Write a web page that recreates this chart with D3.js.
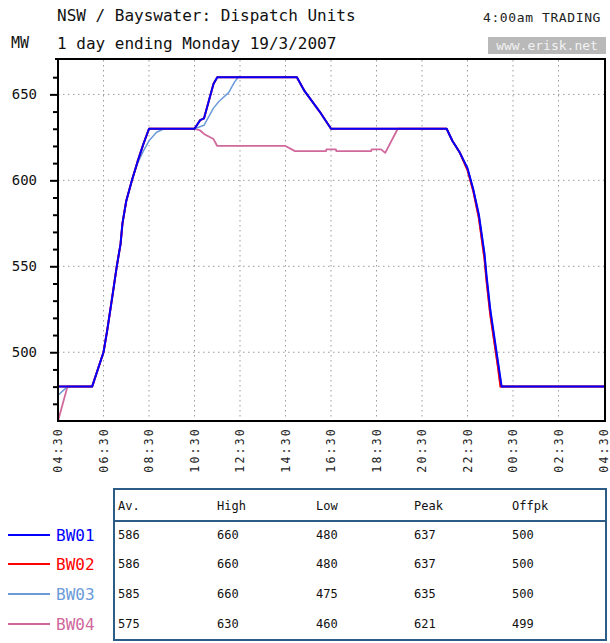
<!DOCTYPE html>
<html>
<head>
<meta charset="utf-8">
<script src="https://cdn.jsdelivr.net/npm/d3@7"></script>
<style>
  html, body { margin: 0; padding: 0; background: #fff; }
  svg { display: block; }
  text { font-family: "DejaVu Sans Mono", monospace; }
</style>
</head>
<body>
<svg id="chart" width="610" height="643"></svg>
<script>
// ---------------- DATA ----------------
const titleLine1 = "NSW / Bayswater: Dispatch Units";
const titleLine2 = "1 day ending Monday 19/3/2007";
const unitLabel = "MW";
const tradingLabel = "4:00am TRADING";
const siteLabel = "www.erisk.net";

const xTickLabels = ["04:30","06:30","08:30","10:30","12:30","14:30","16:30","18:30","20:30","22:30","00:30","02:30","04:30"];
const yTicks = [500, 550, 600, 650];
const yMinorTicks = [470,480,490,510,520,530,540,560,570,580,590,610,620,630,640,660];

const units = ["BW01", "BW02", "BW03", "BW04"];
const unitColors = ["#0000ff", "#ff0000", "#6b9bd9", "#d0689c"];

const bw01 = [
  ["04:30",480],["06:00",480],["06:30",500],["06:40",513],["06:55",535],["07:05",550],
  ["07:15",563],["07:20",575],["07:30",588],["07:45",600],["08:00",611],["08:15",621],
  ["08:30",630],["10:30",630],["10:45",635],["10:55",636],["11:20",656],["11:30",660],
  ["15:00",660],["15:20",652],["16:00",640],["16:30",630],["21:35",630],["21:50",623],
  ["22:10",616],["22:30",607],["22:45",595],["23:00",580],["23:15",557],["23:20",545],
  ["23:30",525],["23:40",510],["23:50",495],["00:00",480],["04:30",480]
];
const bw02 = [
  ["04:30",480],["06:00",480],["06:30",500],["06:40",513],["06:55",535],["07:05",550],
  ["07:15",563],["07:20",575],["07:30",588],["07:45",600],["08:00",611],["08:15",621],
  ["08:30",630],["10:30",630],["10:45",635],["10:55",636],["11:20",656],["11:30",660],
  ["15:00",660],["15:20",652],["16:00",640],["16:30",630],["21:35",630],["21:50",623],
  ["22:10",616],["22:30",606],["22:45",594],["23:00",578],["23:15",554],["23:20",542],
  ["23:30",522],["23:40",507],["23:50",492],["23:57",480],["04:30",480]
];
const bw03 = [
  ["04:30",475],["04:55",480],["06:00",480],["06:30",500],["06:40",513],["06:55",535],
  ["07:05",550],["07:15",563],["07:20",575],["07:30",588],["07:45",600],["08:00",610],
  ["08:15",617],["08:30",623],["08:50",628],["09:10",630],["10:30",630],["10:55",632],
  ["11:20",642],["11:35",646],["12:00",651],["12:15",657],["12:25",660],["15:00",660],
  ["15:20",652],["16:00",640],["16:30",630],["21:35",630],["21:50",623],["22:10",616],
  ["22:30",607],["22:45",595],["23:00",580],["23:15",557],["23:20",545],["23:30",525],
  ["23:40",510],["23:50",495],["00:00",480],["04:30",480]
];
const bw04 = [
  ["04:30",460],["04:55",480],["06:00",480],["06:30",500],["06:40",513],["06:55",535],
  ["07:05",550],["07:15",563],["07:20",575],["07:30",588],["07:45",600],["08:00",611],
  ["08:15",621],["08:30",630],["10:30",630],["10:45",629],["10:55",627],["11:20",624],
  ["11:30",620],["14:30",620],["14:55",617],["16:17",617],["16:18",618],["16:43",618],
  ["16:44",617],["18:16",617],["18:17",618],["18:42",618],["18:53",616],["19:26",630],
  ["21:35",630],["21:50",623],["22:10",616],["22:30",606],["22:45",594],["23:00",578],
  ["23:15",554],["23:20",542],["23:30",522],["23:40",507],["23:50",492],["23:57",480],
  ["04:30",480]
];
const seriesData = [bw01, bw02, bw03, bw04];

const tableHeaders = ["Av.", "High", "Low", "Peak", "Offpk"];
const statAvg   = [586, 586, 585, 575];
const statHigh  = [660, 660, 660, 630];
const statLow   = [480, 480, 475, 460];
const statPeak  = [637, 637, 635, 621];
const statOffpk = [500, 500, 500, 499];

// ---------------- HELPERS ----------------
const startDate = new Date(2007, 2, 18, 4, 30);
function toDates(labels) {
  let prev = -1;
  return labels.map(s => {
    const [hh, mm] = s.split(":").map(Number);
    let m = ((hh * 60 + mm) - 270 + 1440) % 1440;
    if (m < prev) m += 1440;
    prev = m;
    return new Date(startDate.getTime() + m * 60000);
  });
}

// ---------------- LAYOUT ----------------
const svg = d3.select("#chart");
const plot = { left: 58, right: 604, top: 60, bottom: 421 };

const x = d3.scaleTime()
  .domain([startDate, new Date(startDate.getTime() + 24 * 3600000)])
  .range([plot.left, plot.right]);
const y = d3.scaleLinear().domain([460, 670]).range([plot.bottom, plot.top]);

// ---------------- HEADER ----------------
svg.append("text").attr("x", 57).attr("y", 21).attr("font-size", 16).attr("fill", "#111").text(titleLine1);
svg.append("text").attr("x", 57).attr("y", 49).attr("font-size", 16).attr("fill", "#111").text(titleLine2);
svg.append("text").attr("x", 11).attr("y", 48).attr("font-size", 15).attr("fill", "#111").text(unitLabel);
svg.append("text").attr("x", 601).attr("y", 22).attr("font-size", 13).attr("letter-spacing", 0.6)
  .attr("text-anchor", "end").attr("fill", "#222").text(tradingLabel);
svg.append("rect").attr("x", 488).attr("y", 37).attr("width", 118).attr("height", 17).attr("fill", "#b9b9b9");
svg.append("text").attr("x", 547).attr("y", 50).attr("font-size", 13).attr("text-anchor", "middle")
  .attr("fill", "#f2f2f2").text(siteLabel);
svg.append("line").attr("x1", 55).attr("x2", 606).attr("y1", 59).attr("y2", 59)
  .attr("stroke", "#000").attr("stroke-width", 2);

// ---------------- GRID ----------------
const xTickDates = toDates(xTickLabels);
const g = svg.append("g");
g.selectAll(".vgrid").data(xTickDates.slice(1, -1)).enter().append("line")
  .attr("x1", d => x(d)).attr("x2", d => x(d))
  .attr("y1", plot.top).attr("y2", plot.bottom)
  .attr("stroke", "#9a9a9a").attr("stroke-width", 1).attr("stroke-dasharray", "1.5,3.5");
g.selectAll(".hgrid").data(yTicks).enter().append("line")
  .attr("x1", plot.left).attr("x2", plot.right)
  .attr("y1", d => y(d)).attr("y2", d => y(d))
  .attr("stroke", "#9a9a9a").attr("stroke-width", 1).attr("stroke-dasharray", "1.5,3.5");

// ---------------- SERIES ----------------
const line = d3.line().x(d => x(d.t)).y(d => y(d.v));
const drawOrder = [3, 2, 1, 0];
const widths = [2, 2, 1.5, 1.8];
drawOrder.forEach(i => {
  const arr = seriesData[i];
  const dates = toDates(arr.map(d => d[0]));
  const pts = arr.map((d, k) => ({ t: dates[k], v: d[1] }));
  svg.append("path").datum(pts).attr("d", line)
    .attr("fill", "none").attr("stroke", unitColors[i]).attr("stroke-width", widths[i])
    .attr("stroke-linejoin", "round");
});

// ---------------- AXES ----------------
const yAxisMajor = d3.axisLeft(y).tickValues(yTicks).tickSize(8).tickPadding(5).tickFormat(d3.format("d"));
const yAx = svg.append("g").attr("transform", `translate(${plot.left},0)`).call(yAxisMajor);
yAx.select(".domain").remove();
yAx.selectAll("line").attr("stroke", "#000").attr("stroke-width", 2);
yAx.selectAll("text").attr("font-family", "DejaVu Sans Mono, monospace").attr("font-size", 14)
  .attr("fill", "#111").attr("x", -21);
const yAxisMinor = d3.axisLeft(y).tickValues(yMinorTicks).tickSize(5).tickFormat("");
const yMin = svg.append("g").attr("transform", `translate(${plot.left},0)`).call(yAxisMinor);
yMin.select(".domain").remove();
yMin.selectAll("line").attr("stroke", "#000").attr("stroke-width", 2);

const xAxis = d3.axisBottom(x).tickValues(xTickDates).tickSize(0)
  .tickFormat((d, i) => xTickLabels[i]);
const xAx = svg.append("g").attr("transform", `translate(0,${plot.bottom})`).call(xAxis);
xAx.select(".domain").remove();
xAx.selectAll("text")
  .attr("font-family", "DejaVu Sans Mono, monospace").attr("font-size", 11.5).attr("letter-spacing", 2.2)
  .attr("fill", "#222")
  .attr("transform", "rotate(-90)")
  .attr("text-anchor", "end")
  .attr("x", -6).attr("y", 0).attr("dy", "0.33em");

// frame
svg.append("line").attr("x1", plot.left).attr("x2", plot.left).attr("y1", 59).attr("y2", plot.bottom + 1)
  .attr("stroke", "#000").attr("stroke-width", 2);
svg.append("line").attr("x1", plot.left - 1).attr("x2", plot.right + 2).attr("y1", plot.bottom).attr("y2", plot.bottom)
  .attr("stroke", "#000").attr("stroke-width", 2);
svg.append("line").attr("x1", plot.right + 1).attr("x2", plot.right + 1).attr("y1", 59).attr("y2", plot.bottom + 1)
  .attr("stroke", "#000").attr("stroke-width", 2);

// ---------------- LEGEND + TABLE ----------------
const rowY = [535, 564, 594, 624];
const colX = [118, 217, 316, 414, 512];
const stats = [statAvg, statHigh, statLow, statPeak, statOffpk];

units.forEach((u, i) => {
  svg.append("line").attr("x1", 8).attr("x2", 50).attr("y1", rowY[i]).attr("y2", rowY[i])
    .attr("stroke", unitColors[i]).attr("stroke-width", 2);
  svg.append("text").attr("x", 56).attr("y", rowY[i]).attr("dy", "0.36em")
    .attr("font-size", 16).attr("fill", unitColors[i]).text(u);
});

const tableBorder = "#2c5d86";
svg.append("rect").attr("x", 114).attr("y", 489).attr("width", 492).attr("height", 151)
  .attr("fill", "none").attr("stroke", tableBorder).attr("stroke-width", 2);
svg.append("line").attr("x1", 114).attr("x2", 606).attr("y1", 521).attr("y2", 521)
  .attr("stroke", tableBorder).attr("stroke-width", 2);

tableHeaders.forEach((h, j) => {
  svg.append("text").attr("x", colX[j]).attr("y", 506).attr("dy", "0.36em")
    .attr("font-size", 12).attr("fill", "#111").text(h);
});
units.forEach((u, i) => {
  stats.forEach((col, j) => {
    svg.append("text").attr("x", colX[j]).attr("y", rowY[i]).attr("dy", "0.36em")
      .attr("font-size", 12).attr("fill", "#111").text(col[i]);
  });
});
</script>
</body>
</html>
